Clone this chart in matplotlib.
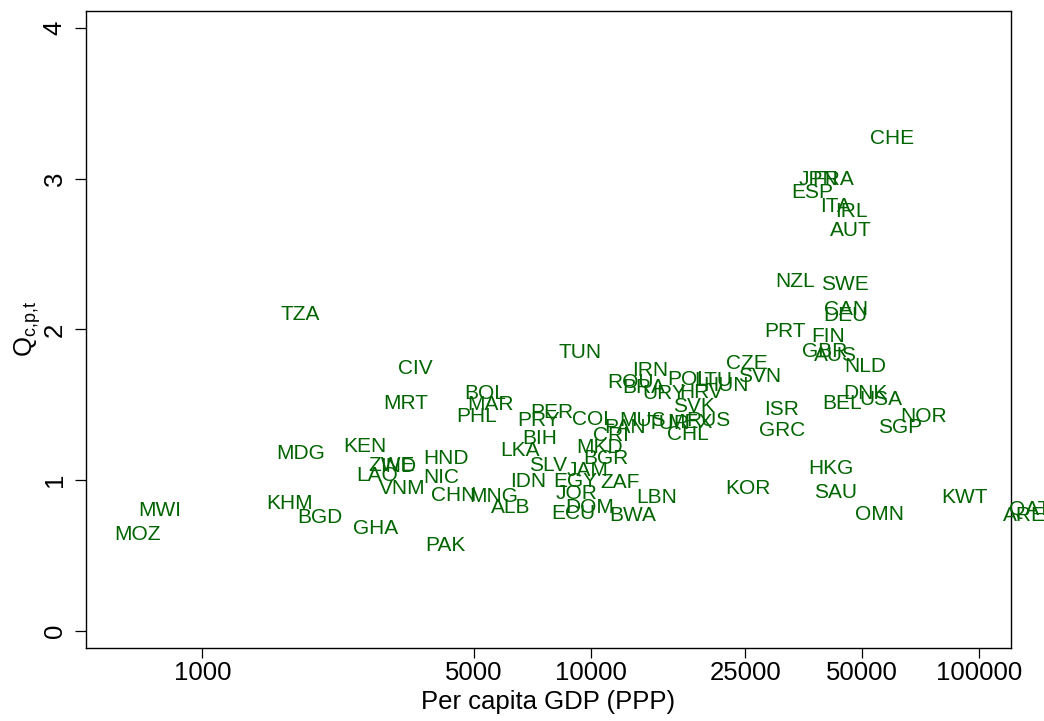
import matplotlib
matplotlib.use('Agg')
import matplotlib.pyplot as plt

plt.rcParams['font.family'] = ['Liberation Sans', 'DejaVu Sans']
plt.rcParams['mathtext.fontset'] = 'custom'
plt.rcParams['mathtext.rm'] = 'Liberation Sans'
plt.rcParams['mathtext.it'] = 'Liberation Sans'

# country codes, per capita GDP (PPP) and Q_{c,p,t}
codes = ['CHE', 'JPN', 'FRA', 'ESP', 'ITA', 'IRL', 'AUT', 'NZL', 'SWE', 'CAN',
         'DEU', 'PRT', 'FIN', 'GBR', 'AUS', 'NLD', 'CZE', 'SVN', 'DNK', 'USA',
         'BEL', 'ISR', 'GRC', 'NOR', 'SGP', 'KWT', 'OMN', 'QAT', 'ARE', 'SAU',
         'HKG', 'KOR', 'LBN', 'BWA', 'DOM', 'ECU', 'JOR', 'ZAF', 'SLV', 'JAM',
         'IDN', 'EGY', 'BIH', 'LKA', 'MKD', 'CRI', 'BGR', 'MNG', 'ALB', 'CHN',
         'NIC', 'HND', 'VNM', 'LAO', 'ZWE', 'IND', 'KEN', 'GHA', 'PAK', 'BGD',
         'KHM', 'MDG', 'MWI', 'MOZ', 'TZA', 'CIV', 'MRT', 'BOL', 'MAR', 'PHL',
         'PER', 'PRY', 'COL', 'TUN', 'IRN', 'ROU', 'BRA', 'POL', 'LTU', 'HUN',
         'URY', 'HRV', 'SVK', 'MUS', 'TUR', 'MEX', 'RUS', 'CHL', 'PAN']
gdp = [59700, 38500, 42100, 37200, 42600, 46800, 46800, 33600, 45200, 45500,
       45200, 31600, 40900, 40100, 42600, 50900, 25300, 27300, 50900, 55900,
       44400, 31100, 31100, 72200, 62600, 91500, 55300, 135300, 131300, 42800,
       41600, 25400, 14800, 12800, 9960, 9010, 9220, 11900, 7770, 9840,
       6900, 9110, 7410, 6580, 10570, 11280, 10950, 5640, 6240, 4450,
       4120, 4240, 3270, 2820, 3080, 3190, 2620, 2790, 4240, 2010,
       1680, 1790, 778, 683, 1790, 3530, 3350, 5350, 5510, 5100,
       7950, 7360, 10140, 9390, 14210, 12630, 13720, 17810, 20660, 22310,
       15450, 19240, 18450, 13640, 15820, 18030, 20050, 17810, 12260]
q = [3.269, 2.991, 2.991, 2.905, 2.812, 2.785, 2.653, 2.321, 2.301, 2.129,
     2.095, 1.989, 1.956, 1.857, 1.824, 1.757, 1.777, 1.691, 1.572, 1.538,
     1.512, 1.466, 1.333, 1.426, 1.353, 0.889, 0.776, 0.809, 0.769, 0.922,
     1.081, 0.948, 0.889, 0.769, 0.822, 0.782, 0.915, 0.988, 1.101, 1.068,
     0.995, 0.995, 1.280, 1.200, 1.220, 1.300, 1.141, 0.895, 0.822, 0.902,
     1.015, 1.147, 0.948, 1.034, 1.101, 1.094, 1.227, 0.683, 0.570, 0.756,
     0.849, 1.180, 0.802, 0.643, 2.102, 1.744, 1.512, 1.578, 1.499, 1.426,
     1.452, 1.399, 1.406, 1.850, 1.731, 1.651, 1.618, 1.671, 1.664, 1.625,
     1.572, 1.585, 1.492, 1.399, 1.379, 1.386, 1.399, 1.306, 1.353]

xticks = [1000, 5000, 10000, 25000, 50000, 100000]
yticks = [0, 1, 2, 3, 4]

fig = plt.figure(figsize=(10.44, 7.21), dpi=100)
ax = fig.add_axes([0.0824, 0.1019, 0.8860, 0.8828])

for c, x, y in zip(codes, gdp, q):
    ax.text(x, y, c, ha='center', va='center', fontsize=15,
            color='#006400', clip_on=False)

ax.set_xscale('log')
ax.set_xlim(502, 120900)
ax.set_ylim(-0.109, 4.111)
ax.set_xticks(xticks)
ax.set_xticklabels([str(t) for t in xticks])
ax.xaxis.set_minor_locator(matplotlib.ticker.NullLocator())
ax.set_yticks(yticks)
ax.set_yticklabels([str(t) for t in yticks], rotation=90, va='center')

ax.tick_params(axis='x', length=7.5, width=0.9, labelsize=18.5, pad=2)
ax.tick_params(axis='y', length=8, width=0.9, labelsize=18.5, pad=6)
for s in ax.spines.values():
    s.set_linewidth(1.0)

ax.set_xlabel('Per capita GDP (PPP)', fontsize=18.5, labelpad=4)
ax.set_ylabel(r'Q$_{\mathregular{c{,}p{,}t}}$', fontsize=18.5)
ax.yaxis.set_label_coords(-0.047, 0.5)

plt.savefig('out.png', dpi=100)
